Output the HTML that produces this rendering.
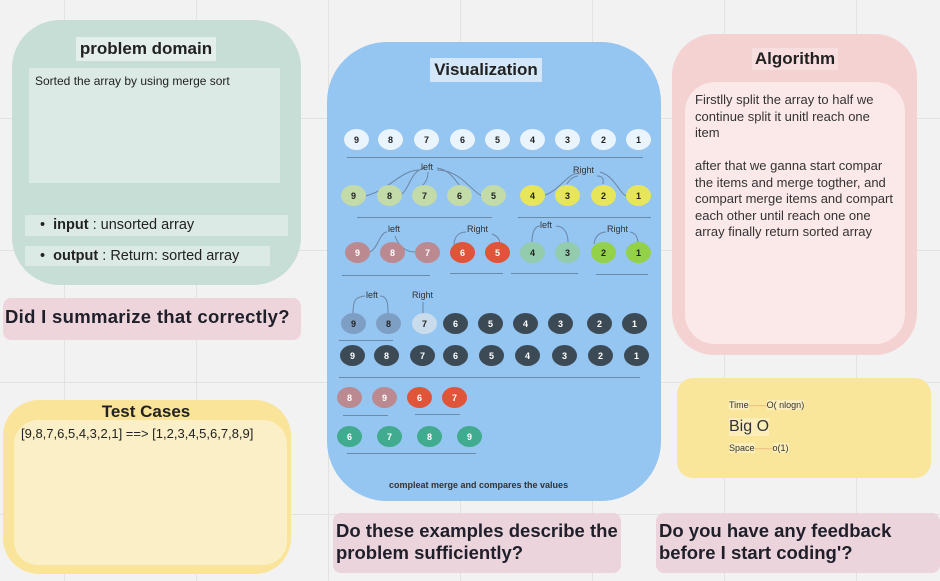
<!DOCTYPE html>
<html><head><meta charset="utf-8"><style>
*{margin:0;padding:0;box-sizing:border-box}
body{width:940px;height:581px;overflow:hidden;background:#f2f2f2;font-family:"Liberation Sans","DejaVu Sans",sans-serif;position:relative;color:#222}
.a{position:absolute}
.gv{position:absolute;top:0;width:1px;height:581px;background:#e2e2e2}
.gh{position:absolute;left:0;height:1px;width:940px;background:#e2e2e2}
.c{position:absolute;width:25px;height:21px;border-radius:50%;font-size:9px;font-weight:bold;display:flex;align-items:center;justify-content:center}
.ln{position:absolute;height:1px;background:#6a8aa8}
.note{font-weight:bold;font-size:18.5px;color:#1f1f2a}
</style></head><body>
<div id="grid"></div>

<div class="a" style="left:12px;top:20px;width:289px;height:265px;background:#c6ded5;border-radius:48px"></div>
<div class="a" style="left:76px;top:37px;width:140px;height:24px;background:#e4efeb;font-weight:bold;font-size:17px;text-align:center;line-height:24px">problem domain</div>
<div class="a" style="left:29px;top:68px;width:251px;height:115px;background:#dceae5;font-size:12px;padding:6px 6px">Sorted the array by using merge sort</div>
<div class="a" style="left:25px;top:215px;width:263px;height:21px;background:#dceae5;font-size:14.5px;line-height:21px;padding-left:15px">•&nbsp;&nbsp;<b>input</b> : unsorted array</div>
<div class="a" style="left:25px;top:246px;width:245px;height:20px;background:#dceae5;font-size:14.5px;line-height:20px;padding-left:15px">•&nbsp;&nbsp;<b>output</b> : Return: sorted array</div>
<div class="a note" style="left:3px;top:298px;width:298px;height:42px;background:#eed5dc;border-radius:8px;padding:8px 2px;letter-spacing:0.3px">Did I summarize that correctly?</div>

<div class="a" style="left:3px;top:400px;width:288px;height:174px;background:#f9e49a;border-radius:36px"></div>
<div class="a" style="left:14px;top:420px;width:273px;height:145px;background:#faefc6;border-radius:24px"></div>
<div class="a" style="left:96px;top:402px;width:100px;font-weight:bold;font-size:17px;text-align:center">Test Cases</div>
<div class="a" style="left:21px;top:426px;font-size:13px">[9,8,7,6,5,4,3,2,1] ==&gt; [1,2,3,4,5,6,7,8,9]</div>

<div class="a" style="left:327px;top:42px;width:334px;height:459px;background:#95c5f1;border-radius:60px"></div>
<div class="a" style="left:430px;top:58px;width:112px;height:24px;background:#d4e7f8;font-weight:bold;font-size:17px;text-align:center;line-height:24px">Visualization</div>
<div class="a" style="left:389px;top:480px;font-size:9px;font-weight:bold;color:#333">compleat merge and compares the values</div>
<svg class="a" style="left:0;top:0" width="940" height="581" fill="none" stroke="#6a86a4" stroke-width="1">
<path d="M365 196 C390 190,400 170,420 170 M400 195 C410 190,410 170,425 168 M422 186 C428 180,428 175,428 172 M437 168 C450 170,455 180,460 186 M437 170 C460 170,470 190,482 196"/>
<path d="M545 195 C560 190,570 170,580 174 M567 184 C570 178,576 176,578 176 M597 176 C605 176,603 182,603 184 M600 172 C615 176,620 195,627 196"/>
<path d="M370 252 C378 248,380 232,387 232 M395 236 C400 250,410 252,415 252 M454 246 C454 235,460 232,466 232 M492 234 C498 236,500 240,500 245 M532 242 C532 232,535 226,540 226 M556 226 C565 226,568 235,568 242 M594 244 C595 236,600 232,606 232 M630 232 C637 233,638 240,638 244"/>
<path d="M353 314 C353 300,355 297,365 296 M380 296 C388 296,388 305,388 314 M423 302 L423 314"/>
</svg>
<div id="viz"></div>
<div class="a" style="left:421px;top:162px;font-size:9px;color:#333">left</div>
<div class="a" style="left:573px;top:165px;font-size:9px;color:#333">Right</div>
<div class="a" style="left:388px;top:224px;font-size:9px;color:#333">left</div>
<div class="a" style="left:467px;top:224px;font-size:9px;color:#333">Right</div>
<div class="a" style="left:540px;top:220px;font-size:9px;color:#333">left</div>
<div class="a" style="left:607px;top:224px;font-size:9px;color:#333">Right</div>
<div class="a" style="left:366px;top:290px;font-size:9px;color:#333">left</div>
<div class="a" style="left:412px;top:290px;font-size:9px;color:#333">Right</div>

<div class="a" style="left:672px;top:34px;width:245px;height:321px;background:#f5d2d2;border-radius:42px"></div>
<div class="a" style="left:685px;top:82px;width:220px;height:262px;background:#fbe8e9;border-radius:30px"></div>
<div class="a" style="left:752px;top:48px;width:86px;height:22px;background:#f8dede;font-weight:bold;font-size:17px;text-align:center;line-height:22px">Algorithm</div>
<div class="a" style="left:695px;top:92px;width:200px;font-size:13px;line-height:16.5px;color:#333">Firstlly split the array to half we continue split it unitl reach one item<br><br>after that we ganna start compar the items and merge togther, and compart merge items and compart each other until reach one one array finally return sorted array</div>

<div class="a" style="left:677px;top:378px;width:254px;height:100px;background:#f9e69b;border-radius:16px"></div>
<div class="a" style="left:729px;top:400px;font-size:9px;color:#333"><span style="background:#fbeebb">Time</span><span style="color:#e9a77a">——</span><span style="background:#fbeebb">O( nlogn)</span></div>
<div class="a" style="left:729px;top:418px;font-size:16px;background:#fbeebb;color:#333">Big O</div>
<div class="a" style="left:729px;top:443px;font-size:9px;color:#333"><span style="background:#fbeebb">Space</span><span style="color:#e9a77a">——</span><span style="background:#fbeebb">o(1)</span></div>

<div class="a note" style="left:333px;top:513px;width:288px;height:60px;background:#ecd4dd;border-radius:8px;padding:7px 3px;line-height:22px">Do these examples describe the problem sufficiently?</div>
<div class="a note" style="left:656px;top:513px;width:284px;height:60px;background:#ecd4dd;border-radius:8px;padding:7px 3px;line-height:22px">Do you have any feedback<br>before I start coding'?</div>

<script>
const gridX=[64,196,328,460,592,724,856];
const gridY=[118,250,382,514];
const rowY=[139,195,252,323,355,397,436];
const rowX=[[356,390,426,462,497,532,567,603,638],[353,389,424,459,493,532,567,603,638],[357,392,427,462,497,532,567,603,638],[353,388,424,455,490,525,560,599,634],[352,386,422,455,491,527,564,600,636],[349,384,419,454],[349,389,429,469]];
const rowVals=[[9,8,7,6,5,4,3,2,1],[9,8,7,6,5,4,3,2,1],[9,8,7,6,5,4,3,2,1],[9,8,7,6,5,4,3,2,1],[9,8,7,6,5,4,3,2,1],[8,9,6,7],[6,7,8,9]];
const rowColors=[['#eaf4fd','#eaf4fd','#eaf4fd','#eaf4fd','#eaf4fd','#eaf4fd','#eaf4fd','#eaf4fd','#eaf4fd'],
['#c3daa9','#c3daa9','#c3daa9','#c3daa9','#c3daa9','#e7e65a','#e7e65a','#e7e65a','#e7e65a'],
['#bb8a90','#bb8a90','#bb8a90','#e0553a','#e0553a','#93cbad','#93cbad','#93d148','#93d148'],
['#7e9fc4','#7e9fc4','#cadcec','#3c4a56','#3c4a56','#3c4a56','#3c4a56','#3c4a56','#3c4a56'],
['#3c4a56','#3c4a56','#3c4a56','#3c4a56','#3c4a56','#3c4a56','#3c4a56','#3c4a56','#3c4a56'],
['#bb8a90','#bb8a90','#e0553a','#e0553a'],
['#40ab8e','#40ab8e','#40ab8e','#40ab8e']];
const g=document.getElementById('grid');
gridX.forEach(x=>{const d=document.createElement('div');d.className='gv';d.style.left=x+'px';

g.appendChild(d);});
gridY.forEach(y=>{const d=document.createElement('div');d.className='gh';d.style.top=y+'px';

g.appendChild(d);});
const v=document.getElementById('viz');
rowY.forEach((y,r)=>{rowX[r].forEach((x,i)=>{const c=document.createElement('div');c.className='c';
c.style.left=(x-12)+'px';c.style.top=(y-10)+'px';c.style.background=rowColors[r][i];
const col=rowColors[r][i];c.style.color=(col=='#3c4a56'||col=='#e0553a'||col=='#40ab8e'||col=='#bb8a90')?'#fff':'#222';
c.textContent=rowVals[r][i];

v.appendChild(c);});});
const lines=[[347,157,643],[357,217,492],[518,217,651],[342,275,430],[450,273,503],[511,273,578],[596,274,648],[339,340,393],[339,377,640],[343,415,388],[415,414,460],[347,453,476]];
lines.forEach(l=>{const d=document.createElement('div');d.className='ln';d.style.left=l[0]+'px';d.style.top=l[1]+'px';d.style.width=(l[2]-l[0])+'px';

v.appendChild(d);});
</script>
</body></html>
